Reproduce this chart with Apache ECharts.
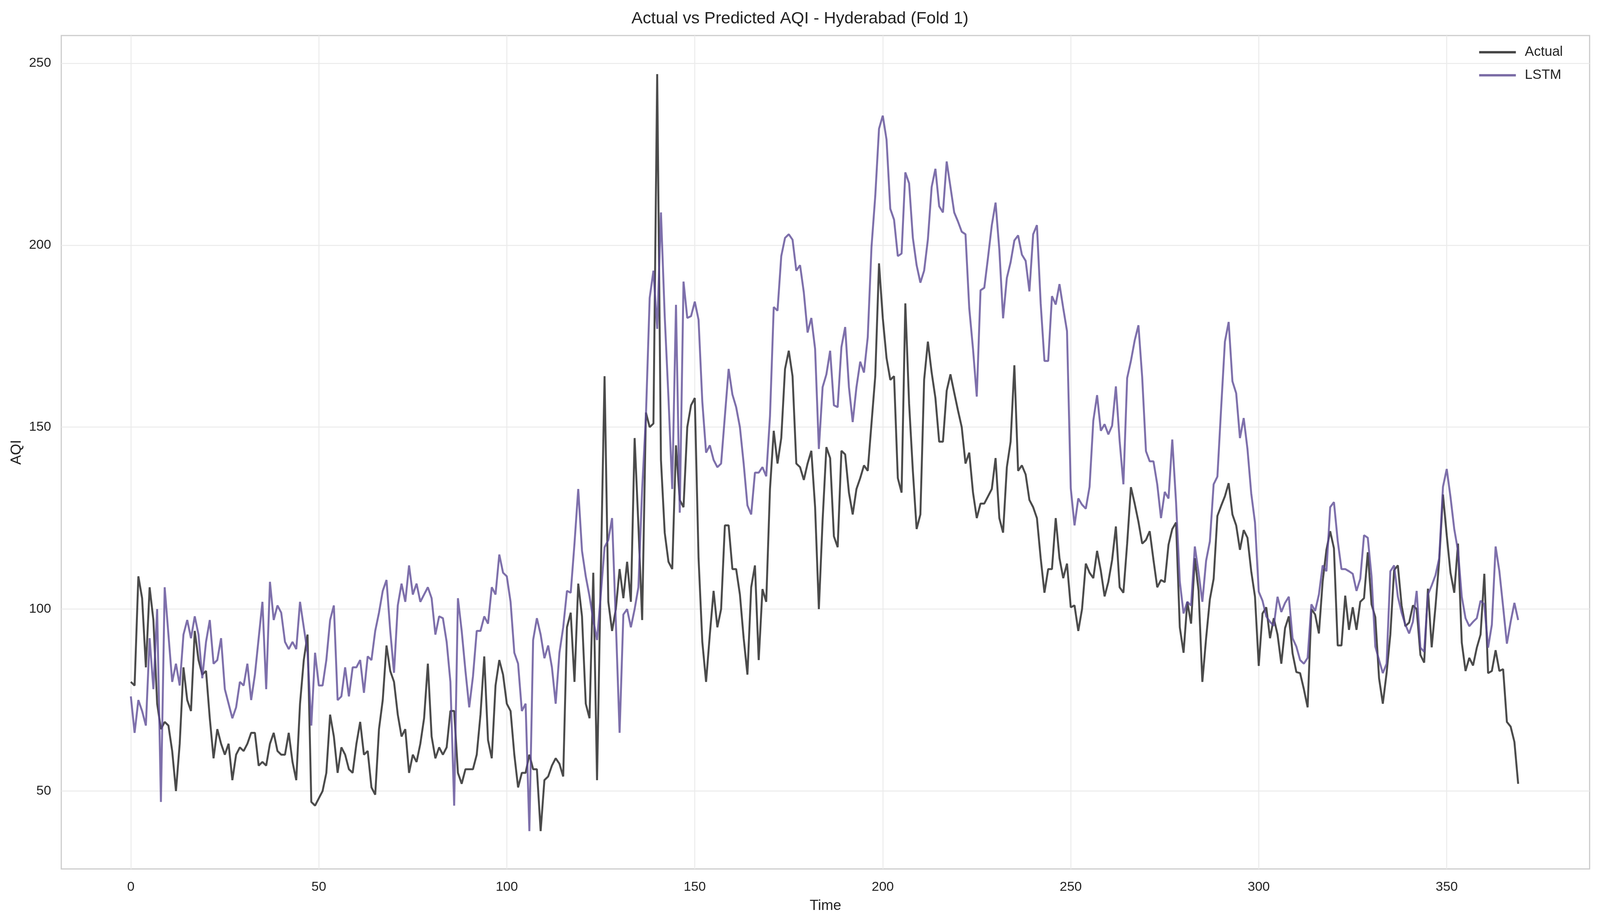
<!DOCTYPE html>
<html>
<head>
<meta charset="utf-8"/>
<title>Actual vs Predicted AQI</title>
<script src="https://cdn.jsdelivr.net/npm/echarts@6/dist/echarts.min.js"></script>
<style>
html,body{margin:0;padding:0;background:#fff;overflow:hidden;}
#main{width:100vw;height:100vh;}
</style>
</head>
<body>
<div id="main"></div>
<script>
var actual = [80,79,109,103,84,106,97,74,67,69,68,61,50,63,84,75,72,94,86,82,83,70,59,67,63,60,63,53,60,62,
61,63,66,66,57,58,57,63,66,61,60,60,66,58,53,74,86,93,47,46,48,50,55,71,65,55,62,60,56,55,
63,69,60,61,51,49,67,75,90,83,80,71,65,67,55,60,58,63,70,85,65,59,62,60,62,72,72,55,52,56,
56,56,60,71,87,64,59,79,86,82,74,72,60,51,55,55,60,56,56,39,53,54,57,59,57.5,54,95,99,80,107,
98,74,70,110,53,110,164,102,94,100,111,103,113,102,147,123,97,154,150,151,247,141,121,113,111,145,130,128,150,156,
158,114,91,80,93,105,95,100,123,123,111,111,104,92,82,106,112,86,105.5,102,133,149,140,147,166,171,164,140,139,135.5,
140,143.5,128,100,124.5,144.5,141.5,120,117,143.5,142.5,132,126,133,136,139.5,138,151,164,195,180,169,163,164,136,132,184,156.5,138,122,
126,163,173.5,165,158,146,146,160,164.5,159.5,154.6,150,140,143,132,125,129,129,131,133,141.5,125,121,139,146,167,138,139.5,137,130,
128,125,114,104.5,111,111,125,114,108.5,112.5,100.5,101,94,100,112.5,110,108.5,116,110.5,103.5,107.5,113.5,122.7,106,104.5,118,133.5,129,124,118,
119,121.4,113.5,106,108,107.4,117.7,122,123.8,95,88,102,96,114,105,80,92,102.7,108.3,125.6,128.4,131,134.6,126,123,116.3,121.7,119.6,110.4,103.4,
84.4,98.8,100.5,92,97.5,93,85,94.8,98,87.8,82.7,82.4,78,73,100,98.5,93.3,107.6,116.3,121.4,116.7,90,90,103.7,94.3,100.5,94.3,102,103,115.6,
101.3,97.8,81,74,82.4,93,110.7,112,101,95.3,96.3,101,100,87.4,85.3,105.6,89.5,100.6,113.3,131.5,120.3,110,104.5,118,90.8,83,86.6,84.5,89.4,93,
109.7,82.4,83,88.7,83,83.5,69,67.7,63.5,52];

var lstm = [76,66,75,72,68,92,78,100,47,106,93,80,85,79,93,97,92,98,93,81,91,97,85,86,92,78,74,70,73,80,
79,85,75,82,92,102,78,107.5,97,101,99,91,89,91,89,102,95,88,68,88,79,79,86,97,101,75,76,84,76,84,
84,86,77,87,86,94,99,105,108,94,82.5,101,107,102,112,104,107,102,104,106,103,93,98,97.5,91,80,46,103,94,83,
73,81.5,94,94,98,96,106,104,115,110,109,102,88,85,72,74,39,91.5,97.5,93,86.5,90,84,74,88,95,105,104.5,118,133,
116,109,103.5,97,91.5,104,117,119,125,96.5,66,98.5,100,95,100,106,133,153,185.5,193,177,209,180.5,158,133,183.6,126.5,190,180,180.5,
184.5,179.5,157,143,145,141,139,140,153,166,159,155.5,150,140,128.5,126,137.5,137.5,139,136.5,153,183,182,197,202,203,201.5,193,194.5,187,
176,180,171.5,144,161,164.5,171,156,155.5,172,177.5,161,151.4,161,168,165,174.7,199.5,213.5,232,235.6,229,210,207,197,197.7,220,217,202,194.5,
189.7,193,201.6,216,221,210.7,209,223,216,209,206.5,203.7,203,182.7,171.5,158.4,187.6,188.3,196.7,205.5,211.7,198.8,179.9,191,195.3,201.3,202.7,197.4,195.7,187.3,
203,205.5,184,168.2,168.2,186,183.7,189.3,182.7,176.4,133.2,123,130.4,128.7,127.6,133.6,151.8,158.8,149,150.8,148,150.4,161.2,146.2,134.3,163.5,168.2,173.8,178,163.7,
143.4,140.6,140.6,134.3,125,132.2,130.4,146.6,129.4,107.6,98.8,102,101,117.2,110,102,113.3,118.6,134.3,136.4,155.3,173.5,178.9,162.6,159.3,147,152.5,144,131.8,123.8,
104.8,102.3,98,96.5,95.4,103.4,99.2,101.7,103.4,92,89.7,86,85,86.6,101.3,99.5,104,112,110.4,128,129.4,118.8,111,111,110.4,109.7,105,108.3,120.3,119.6,
109,89.7,86,82.4,85,110.4,112,103.4,99,95.7,93.3,96.5,105,89.4,88.3,104,106.5,109.3,114,133.6,138.5,130.8,122,116,103.4,97.5,95.3,96.5,97.5,102.3,
101.3,89.4,95.7,117.2,110.4,100.6,90.5,96.5,101.7,97];

var xTicks = [0, 50, 100, 150, 200, 250, 300, 350];
var yTicks = [50, 100, 150, 200, 250];

function pairs(arr) {
    var out = [];
    for (var i = 0; i < arr.length; i++) out.push([i, arr[i]]);
    return out;
}

var chart = echarts.init(document.getElementById('main'));
var font = 'Liberation Sans, Arial, sans-serif';
var gridLine = {show: true, lineStyle: {color: '#ebebeb', width: 2.5}};

chart.setOption({
    animation: false,
    backgroundColor: '#fff',
    title: {
        text: 'Actual vs Predicted AQI - Hyderabad (Fold 1)',
        left: 'center', top: '0.9%',
        textStyle: {fontFamily: font, fontSize: 43, fontWeight: 'normal', color: '#222'}
    },
    legend: {
        right: '2.2%', top: '4.7%', orient: 'vertical',
        itemWidth: 94, itemHeight: 6, itemGap: 24,
        icon: 'rect',
        textStyle: {fontFamily: font, fontSize: 35, color: '#222', padding: [0, 0, 0, 18]},
        data: ['Actual', 'LSTM']
    },
    grid: {left: '3.83%', right: '0.65%', top: '3.85%', bottom: '5.96%', show: true, borderColor: '#cccccc', borderWidth: 3},
    xAxis: {
        type: 'value', min: -18.5, max: 388,
        name: 'Time', nameLocation: 'middle', nameGap: 76,
        nameTextStyle: {fontFamily: font, fontSize: 37, color: '#222'},
        axisLine: {show: false}, axisTick: {show: false, customValues: xTicks},
        axisLabel: {customValues: xTicks, fontFamily: font, fontSize: 34, color: '#222', margin: 30},
        splitLine: gridLine
    },
    yAxis: {
        type: 'value', min: 28.6, max: 257.6,
        name: 'AQI', nameLocation: 'middle', nameGap: 96,
        nameTextStyle: {fontFamily: font, fontSize: 37, color: '#222'},
        axisLine: {show: false}, axisTick: {show: false, customValues: yTicks},
        axisLabel: {customValues: yTicks, fontFamily: font, fontSize: 34, color: '#222', margin: 26},
        splitLine: gridLine
    },
    series: [
        {name: 'Actual', type: 'line', data: pairs(actual), showSymbol: false,
         color: '#444444', lineStyle: {width: 5, color: 'rgba(30,30,30,0.8)'}},
        {name: 'LSTM', type: 'line', data: pairs(lstm), showSymbol: false,
         color: '#7a6ba5', lineStyle: {width: 5, color: 'rgba(90,72,148,0.78)'}}
    ]
});
</script>
</body>
</html>
